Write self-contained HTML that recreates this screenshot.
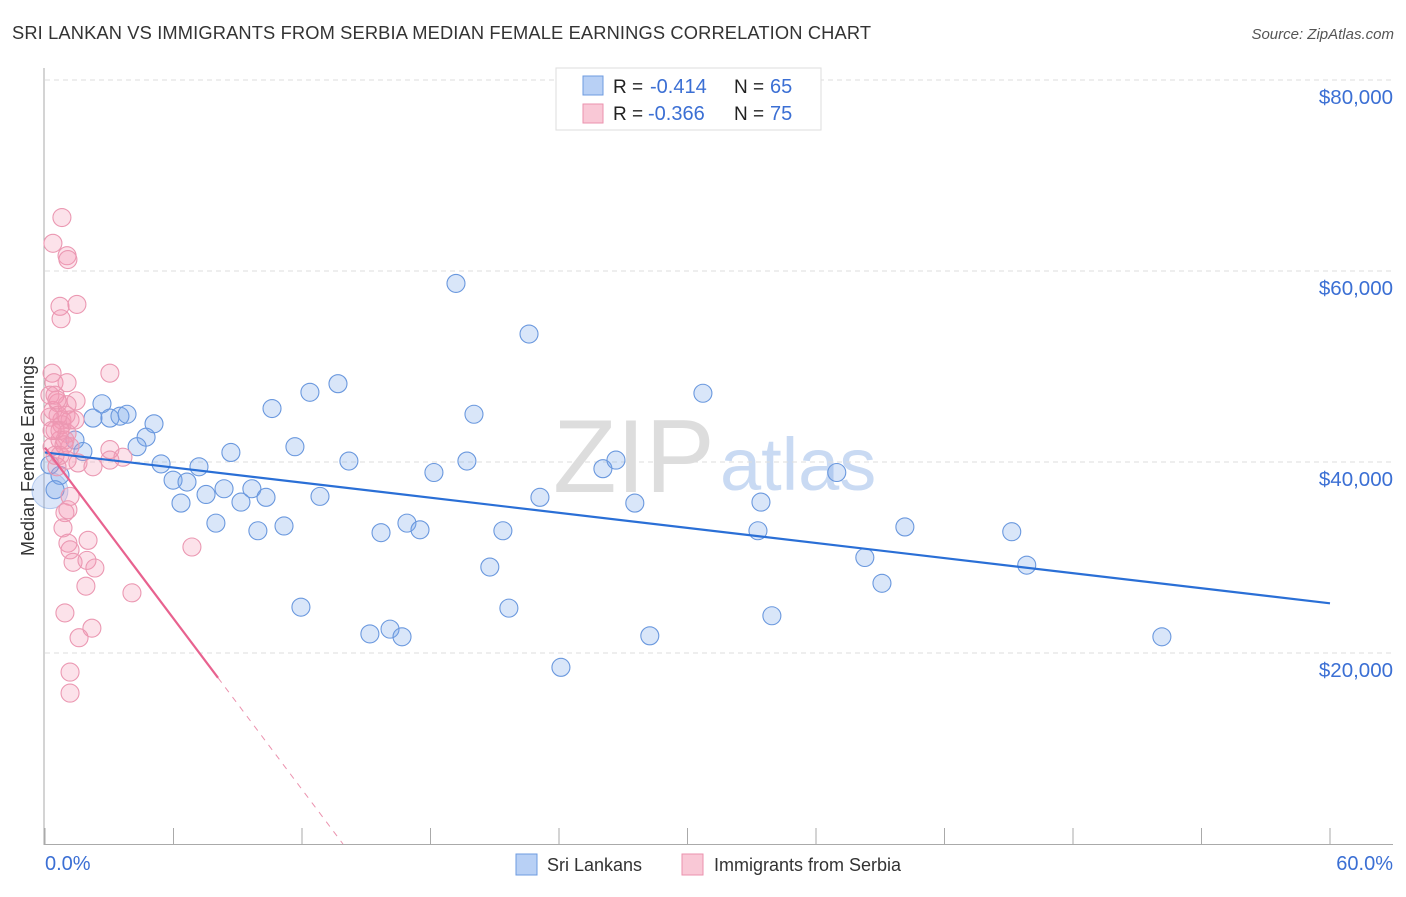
<!DOCTYPE html>
<html><head><meta charset="utf-8"><style>
body{margin:0;background:#fff;font-family:"Liberation Sans",sans-serif;}
svg text{font-family:"Liberation Sans",sans-serif;}
</style></head><body>
<svg id="c" width="1406" height="892" xmlns="http://www.w3.org/2000/svg">
<text x="12" y="39" font-size="18.3" fill="#333" textLength="859">SRI LANKAN VS IMMIGRANTS FROM SERBIA MEDIAN FEMALE EARNINGS CORRELATION CHART</text>
<text x="1394" y="39" font-size="15" fill="#555" font-style="italic" text-anchor="end">Source: ZipAtlas.com</text>
<g><text x="553" y="492" font-size="104" fill="#ddd" font-family="Liberation Serif,serif">ZIP</text><text x="720" y="490" font-size="74" fill="#c9daf3">atlas</text></g>
<text transform="translate(34,456) rotate(-90)" font-size="18" fill="#333" text-anchor="middle">Median Female Earnings</text>
<g id="grid"></g><g id="axes"></g><g id="marks"></g>
<g>
<rect x="556" y="68" width="265" height="62" fill="#fff" stroke="#ddd"/>
<rect x="583" y="76" width="20" height="19" fill="#b8d0f5" stroke="#6e9be0"/>
<rect x="583" y="104" width="20" height="19" fill="#f9c8d6" stroke="#eb92ae"/>
<text x="613" y="93" font-size="19" fill="#222">R =</text>
<text x="650" y="93" font-size="20" fill="#3b6fd4">-0.414</text>
<text x="734" y="93" font-size="19" fill="#222">N =</text>
<text x="770" y="93" font-size="20" fill="#3b6fd4">65</text>
<text x="613" y="120" font-size="19" fill="#222">R =</text>
<text x="648" y="120" font-size="20" fill="#3b6fd4">-0.366</text>
<text x="734" y="120" font-size="19" fill="#222">N =</text>
<text x="770" y="120" font-size="20" fill="#3b6fd4">75</text>
</g>
<g>
<rect x="516" y="854" width="21" height="21" fill="#b8d0f5" stroke="#6e9be0"/>
<text x="547" y="871" font-size="18" fill="#333">Sri Lankans</text>
<rect x="682" y="854" width="21" height="21" fill="#f9c8d6" stroke="#eb92ae"/>
<text x="714" y="871" font-size="18" fill="#333">Immigrants from Serbia</text>
</g>
</svg>
<script>
const xTicks=[0,6,12,18,24,30,36,42,48,54,60];
const yTicks=[20000,40000,60000,80000];
const yTickLabels=["$20,000","$40,000","$60,000","$80,000"];
const xEndLabels=["0.0%","60.0%"];
const blueX=[2.24,2.66,3.03,3.50,3.83,4.72,5.09,4.30,5.42,5.98,6.35,6.63,7.19,7.52,7.98,8.36,8.68,9.15,9.66,9.94,10.32,10.60,11.16,11.67,11.95,12.37,12.84,13.68,14.19,15.17,15.69,16.11,16.67,16.90,17.51,18.16,19.19,19.70,20.03,20.77,21.38,21.66,22.60,23.11,24.09,26.05,26.66,27.54,28.24,30.72,33.29,33.43,33.94,36.97,38.28,39.08,40.15,45.14,45.84,52.15,1.40,1.77,0.70,0.47,0.23];
const blueY=[44.6,46.1,44.6,44.8,45.0,42.6,44.0,41.6,39.8,38.1,35.7,37.9,39.5,36.6,33.6,37.2,41.0,35.8,37.2,32.8,36.3,45.6,33.3,41.6,24.8,47.3,36.4,48.2,40.1,22.0,32.6,22.5,21.7,33.6,32.9,38.9,58.7,40.1,45.0,29.0,32.8,24.7,53.4,36.3,18.5,39.3,40.2,35.7,21.8,47.2,32.8,35.8,23.9,38.9,30.0,27.3,33.2,32.7,29.2,21.7,42.3,41.1,38.6,37.1,39.7];
const pinkX=[0.79,0.37,1.03,1.07,0.70,1.49,0.75,3.03,0.33,0.42,1.03,1.45,0.61,0.37,1.03,0.79,0.23,0.47,1.03,0.70,0.33,1.17,3.03,1.54,2.24,3.03,3.64,1.03,0.56,1.17,0.93,0.84,1.07,2.01,1.17,1.31,1.96,2.33,1.91,6.86,4.06,0.93,2.19,1.59,1.17,1.17,0.23,0.47,0.61,0.79,0.93,0.47,0.70,0.89,1.17,0.56,0.33,0.98,0.70,1.40,1.07];
const pinkY=[65.6,62.9,61.6,61.2,56.3,56.5,55.0,49.3,49.3,48.3,48.3,46.4,46.2,45.4,46.0,44.4,44.7,43.3,43.0,42.3,41.6,41.6,41.3,39.9,39.5,40.2,40.5,40.2,39.5,36.4,34.7,33.1,31.5,31.8,30.8,29.5,29.7,28.9,27.0,31.1,26.3,24.2,22.6,21.6,18.0,15.8,47.0,47.0,44.9,43.9,42.3,40.7,43.3,41.8,44.4,46.5,43.3,44.9,40.7,44.4,35.0];
const blueTrend=[41.0,25.2];
const pinkTrend=[41.5,17.4];
const pinkSolidEnd=8.08;
const NS="http://www.w3.org/2000/svg";
const X=v=>45+v*(1285/60);
const Y=k=>844-k*(191/20000)*1000;
function mk(t,a,p){const e=document.createElementNS(NS,t);for(const k in a)e.setAttribute(k,a[k]);p.appendChild(e);return e;}
const grid=document.getElementById('grid'),axes=document.getElementById('axes'),marks=document.getElementById('marks');
yTicks.forEach((v,i)=>{
 const g=mk('line',{x1:45,x2:1393,y1:Y(v/1000),y2:Y(v/1000),stroke:'#ddd','stroke-dasharray':'5,4'},grid);
 
 
 const t=mk('text',{x:1393,y:Y(v/1000)+24,'font-size':20.5,fill:'#3b6fd4','text-anchor':'end'},axes);
 t.textContent=yTickLabels[i];
 
 
});
const ty=mk('line',{x1:44,x2:44,y1:68,y2:845,stroke:'#aaa'},axes);


const tx=mk('line',{x1:44,x2:1393,y1:844.5,y2:844.5,stroke:'#aaa'},axes);


xTicks.forEach(v=>{const l=mk('line',{x1:X(v),x2:X(v),y1:828,y2:845,stroke:'#aaa'},axes);
 
 });
[[0,'start',45],[60,'end',1393]].forEach((a,i)=>{const t=mk('text',{x:a[2],y:870,'font-size':20,fill:'#3b6fd4','text-anchor':a[1]},axes);t.textContent=xEndLabels[i];
 
 });
const big=mk('circle',{cx:X(0.23),cy:Y(37.0),r:18,fill:'rgba(110,155,230,0.25)',stroke:'rgba(90,140,220,0.4)'},marks);


blueX.forEach((x,i)=>{const c=mk('circle',{cx:X(x),cy:Y(blueY[i]),r:9,fill:'rgba(120,165,235,0.28)',stroke:'#6a98de','stroke-width':1.1},marks);
 
 });
pinkX.forEach((x,i)=>{const c=mk('circle',{cx:X(x),cy:Y(pinkY[i]),r:9,fill:'rgba(245,150,180,0.28)',stroke:'#eb98b2','stroke-width':1.1},marks);
 
 });
const bl=mk('line',{x1:X(0),y1:Y(blueTrend[0]),x2:X(60),y2:Y(blueTrend[1]),stroke:'#2a6fd6','stroke-width':2.2},marks);


const pk=(pinkTrend[1]-pinkTrend[0])/pinkSolidEnd;
const pl=mk('line',{x1:X(0),y1:Y(pinkTrend[0]),x2:X(pinkSolidEnd),y2:Y(pinkTrend[1]),stroke:'#e8628f','stroke-width':2.2},marks);


const zx=-pinkTrend[0]/pk;
const pd=mk('line',{x1:X(pinkSolidEnd),y1:Y(pinkTrend[1]),x2:X(zx),y2:Y(0),stroke:'#eb92ae','stroke-width':1,'stroke-dasharray':'6,6'},marks);


</script>
</body></html>
